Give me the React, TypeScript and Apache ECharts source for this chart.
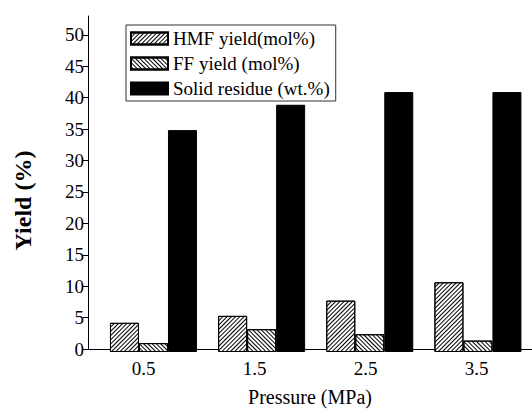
import React, { useEffect, useRef } from "react";
import * as echarts from "echarts";

const categories = ["0.5", "1.5", "2.5", "3.5"];
const hmfYield = [4.6, 5.7, 8.1, 11.0];
const ffYield = [1.4, 3.6, 2.8, 1.8];
const solidResidue = [35, 39, 41, 41];
const yTicks = [0, 5, 10, 15, 20, 25, 30, 35, 40, 45, 50];
const seriesNames = ["HMF yield(mol%)", "FF yield (mol%)", "Solid residue (wt.%)"];

export default function App() {
  const ref = useRef<HTMLDivElement>(null);
  useEffect(() => {
    document.body.style.margin = "0";
    const chart = echarts.init(ref.current!, null, { renderer: "svg" });
    const font = "'Liberation Serif', 'Times New Roman', serif";
    const hatch = (rot: number) => ({
      symbol: "rect",
      symbolSize: 1,
      dashArrayX: [1, 0],
      dashArrayY: [1, 2],
      rotation: rot,
      color: "#000",
    });
    chart.setOption({
      animation: false,
      backgroundColor: "#fff",
      textStyle: { fontFamily: font },
      grid: [
        { left: 88, right: 0, top: 16, bottom: 60 },
        { left: 99.4, right: 0, top: 16, bottom: 60 },
      ],
      legend: {
        orient: "vertical",
        left: 126,
        top: 25,
        borderColor: "#333",
        borderWidth: 1,
        padding: [4, 6, 3, 4],
        itemWidth: 37,
        itemHeight: 12,
        itemGap: 6,
        icon: "rect",
        textStyle: { fontFamily: font, fontSize: 19, color: "#000" },
        data: seriesNames,
      },
      xAxis: [
        {
          type: "category",
          gridIndex: 0,
          data: categories,
          name: "Pressure (MPa)",
          nameLocation: "middle",
          nameGap: 38,
          nameTextStyle: { fontFamily: font, fontSize: 20, color: "#000" },
          axisLine: { lineStyle: { color: "#000", width: 1 } },
          axisTick: { show: false },
          axisLabel: { fontFamily: font, fontSize: 19, color: "#000", margin: 10 },
          splitLine: { show: false },
        },
        {
          type: "category",
          gridIndex: 1,
          data: categories,
          show: false,
        },
      ],
      yAxis: [
        {
          type: "value",
          gridIndex: 0,
          min: 0,
          max: 53,
          interval: 5,
          name: "Yield (%)",
          nameLocation: "middle",
          nameGap: 53,
          nameTextStyle: {
            fontFamily: font,
            fontSize: 24,
            fontWeight: "bold",
            color: "#000",
            padding: [0, 36, 0, 0],
          },
          axisLine: { show: true, lineStyle: { color: "#000", width: 1 } },
          axisTick: { show: true, inside: false, length: 5, customValues: yTicks, lineStyle: { color: "#000" } },
          axisLabel: { fontFamily: font, fontSize: 19, color: "#000", margin: 4, customValues: yTicks },
          splitLine: { show: false },
        },
        {
          type: "value",
          gridIndex: 1,
          min: 0,
          max: 53,
          show: false,
          splitLine: { show: false },
        },
      ],
      series: [
        {
          name: seriesNames[0],
          type: "bar",
          xAxisIndex: 1,
          yAxisIndex: 1,
          data: hmfYield,
          barWidth: 29,
          barGap: "0%",
          itemStyle: { color: "#fff", borderColor: "#000", borderWidth: 1, decal: hatch(-Math.PI / 4) },
        },
        {
          name: seriesNames[1],
          type: "bar",
          xAxisIndex: 1,
          yAxisIndex: 1,
          data: ffYield,
          barWidth: 29,
          barGap: "0%",
          itemStyle: { color: "#fff", borderColor: "#000", borderWidth: 1, decal: hatch(Math.PI / 4) },
        },
        {
          name: seriesNames[2],
          type: "bar",
          xAxisIndex: 1,
          yAxisIndex: 1,
          data: solidResidue,
          barWidth: 29,
          barGap: "0%",
          itemStyle: { color: "#000", borderColor: "#000", borderWidth: 1 },
        },
      ],
    });
    return () => chart.dispose();
  }, []);
  return <div ref={ref} style={{ width: 532, height: 412 }} />;
}
